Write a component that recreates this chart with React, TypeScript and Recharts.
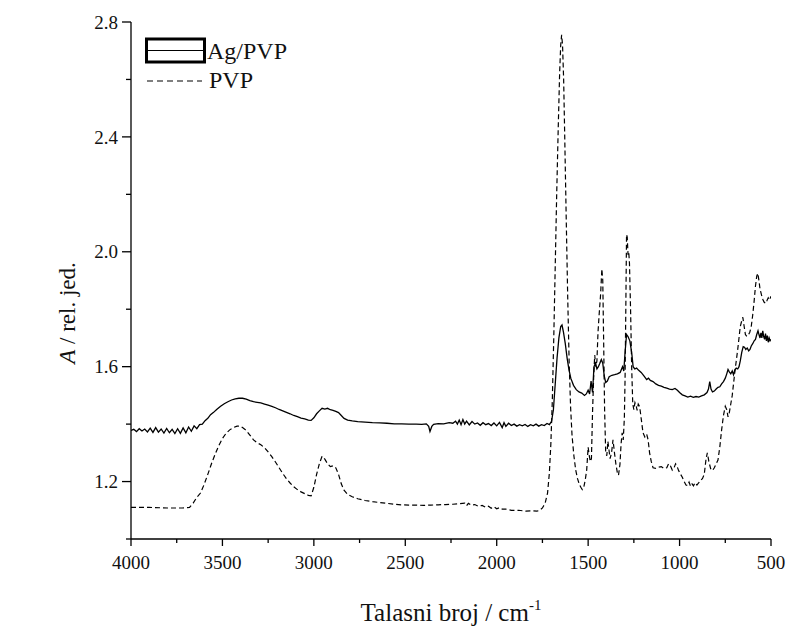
import { LineChart, Line, XAxis, YAxis, Legend } from 'recharts';

// Ag/PVP (puna linija)
const agWn = [
  4000, 3985, 3970, 3955, 3940, 3925, 3910, 3895, 3880, 3865, 3850, 3835, 3820, 3805, 3790, 3775, 3760, 3745, 3730, 3715,
  3700, 3685, 3670, 3655, 3640, 3625, 3610, 3595, 3580, 3565, 3550, 3530, 3510, 3490, 3470, 3450, 3430, 3410, 3390, 3370,
  3350, 3330, 3310, 3290, 3270, 3250, 3230, 3210, 3190, 3170, 3150, 3130, 3110, 3090, 3070, 3050, 3030, 3015, 3000, 2985,
  2970, 2955, 2940, 2925, 2910, 2895, 2880, 2865, 2850, 2835, 2815, 2790, 2760, 2720, 2680, 2640, 2600, 2560, 2520, 2480,
  2440, 2410, 2385, 2372, 2365, 2355, 2345, 2320, 2290, 2260, 2240, 2225, 2215, 2205, 2195, 2185, 2175, 2165, 2150, 2135,
  2120, 2105, 2090, 2075, 2060, 2045, 2030, 2015, 2000, 1985, 1970, 1960, 1950, 1935, 1920, 1905, 1890, 1875, 1860, 1845,
  1830, 1815, 1800, 1785, 1770, 1755, 1740, 1725, 1712, 1700, 1690, 1680, 1670, 1660, 1650, 1643, 1635, 1625, 1615, 1605,
  1595, 1580, 1565, 1550, 1535, 1520, 1510, 1500, 1492, 1484, 1476, 1468, 1460, 1452, 1444, 1436, 1428, 1420, 1412, 1404,
  1395, 1385, 1370, 1355, 1340, 1325, 1312, 1305, 1298, 1290, 1282, 1272, 1262, 1254, 1245, 1235, 1225, 1210, 1195, 1180,
  1170, 1160, 1145, 1130, 1115, 1100, 1085, 1070, 1055, 1040, 1025, 1012, 1000, 985, 970, 955, 940, 925, 910, 895,
  880, 865, 850, 842, 835, 828, 820, 810, 800, 790, 780, 770, 760, 750, 742, 735, 728, 720, 712, 705,
  698, 690, 682, 675, 668, 660, 652, 645, 638, 630, 622, 615, 608, 600, 592, 585, 578, 571, 565, 560,
  555, 550, 545, 540, 535, 530, 525, 520, 515, 510, 505, 500,
];
const agA = [
  1.378, 1.382, 1.374, 1.384, 1.376, 1.383, 1.373, 1.386, 1.371, 1.388, 1.372, 1.383, 1.369, 1.385, 1.37, 1.382, 1.367, 1.384, 1.368, 1.387,
  1.37, 1.39, 1.375, 1.394, 1.384, 1.398, 1.4, 1.412, 1.42, 1.433, 1.44, 1.452, 1.462, 1.471, 1.478, 1.484, 1.488, 1.49, 1.49, 1.487,
  1.482, 1.478, 1.476, 1.474, 1.47, 1.466, 1.462, 1.457, 1.451, 1.446, 1.441, 1.436, 1.43, 1.426, 1.421, 1.418, 1.414, 1.413, 1.422, 1.436,
  1.446, 1.455, 1.452, 1.455, 1.45, 1.448, 1.444, 1.44, 1.43, 1.42, 1.414, 1.411, 1.409, 1.407, 1.405, 1.404, 1.403, 1.401, 1.401, 1.4,
  1.4, 1.399, 1.401, 1.392, 1.374, 1.392, 1.399, 1.402, 1.401, 1.405, 1.403, 1.41, 1.4, 1.414, 1.398, 1.416, 1.4, 1.41, 1.397, 1.409,
  1.4, 1.404, 1.396, 1.405, 1.398, 1.402, 1.395, 1.404, 1.394, 1.406, 1.388, 1.405, 1.392, 1.403, 1.395, 1.4, 1.393, 1.398, 1.394, 1.399,
  1.392, 1.398, 1.394, 1.4, 1.393, 1.398, 1.395, 1.402, 1.398, 1.41, 1.45, 1.54, 1.63, 1.7, 1.74, 1.745, 1.72, 1.68, 1.63, 1.59,
  1.56, 1.535, 1.52, 1.512, 1.508, 1.5, 1.505, 1.518, 1.505, 1.55, 1.51, 1.6, 1.612, 1.592, 1.6, 1.612, 1.625, 1.612, 1.568, 1.545,
  1.55, 1.565, 1.57, 1.572, 1.575, 1.58, 1.6, 1.585, 1.65, 1.712, 1.705, 1.69, 1.65, 1.6, 1.592, 1.595, 1.588, 1.58, 1.568, 1.555,
  1.56, 1.552, 1.548, 1.54, 1.535, 1.532, 1.528, 1.525, 1.522, 1.52, 1.524, 1.518, 1.51, 1.502, 1.498, 1.494, 1.497, 1.493, 1.496, 1.494,
  1.498, 1.502, 1.51, 1.522, 1.548, 1.522, 1.512, 1.515, 1.522, 1.528, 1.53, 1.54, 1.548, 1.56, 1.575, 1.59, 1.582, 1.575, 1.585, 1.572,
  1.588, 1.595, 1.592, 1.6, 1.62, 1.65, 1.67, 1.668, 1.66, 1.665, 1.655, 1.66, 1.672, 1.68, 1.69, 1.695, 1.712, 1.725, 1.71, 1.7,
  1.718, 1.7, 1.725, 1.705, 1.695, 1.715, 1.69, 1.708, 1.685, 1.7, 1.69, 1.695,
];

// PVP (isprekidana linija)
const pvpWn = [
  4000, 3900, 3800, 3720, 3680, 3660, 3640, 3620, 3600, 3580, 3560, 3540, 3520, 3500, 3480, 3460, 3440, 3420, 3405, 3390,
  3370, 3350, 3330, 3310, 3290, 3270, 3250, 3230, 3210, 3190, 3170, 3150, 3130, 3110, 3090, 3070, 3050, 3030, 3015, 3000,
  2985, 2970, 2955, 2940, 2925, 2910, 2895, 2880, 2865, 2850, 2835, 2815, 2790, 2760, 2720, 2680, 2640, 2600, 2560, 2520,
  2480, 2440, 2400, 2360, 2320, 2280, 2240, 2200, 2175, 2165, 2155, 2140, 2120, 2100, 2080, 2060, 2045, 2030, 2015, 2000,
  1985, 1970, 1950, 1920, 1880, 1840, 1800, 1780, 1765, 1750, 1735, 1722, 1712, 1704, 1696, 1688, 1680, 1672, 1664, 1656,
  1650, 1645, 1640, 1634, 1628, 1620, 1612, 1604, 1596, 1588, 1578, 1568, 1558, 1548, 1540, 1532, 1524, 1516, 1508, 1500,
  1494, 1488, 1482, 1476, 1470, 1464, 1458, 1452, 1446, 1440, 1432, 1425, 1420, 1415, 1410, 1404, 1398, 1392, 1386, 1380,
  1372, 1364, 1356, 1348, 1340, 1334, 1326, 1320, 1314, 1308, 1302, 1298, 1294, 1290, 1286, 1282, 1278, 1274, 1268, 1262,
  1256, 1250, 1244, 1238, 1232, 1226, 1218, 1210, 1200, 1190, 1180, 1172, 1164, 1155, 1145, 1130, 1115, 1100, 1085, 1070,
  1060, 1050, 1040, 1030, 1022, 1015, 1005, 995, 985, 975, 965, 955, 948, 940, 932, 924, 915, 905, 895, 885,
  875, 865, 855, 848, 840, 830, 820, 810, 800, 790, 780, 770, 760, 750, 742, 735, 728, 720, 712, 705,
  698, 690, 682, 675, 668, 660, 654, 648, 640, 632, 624, 616, 608, 600, 592, 585, 578, 572, 566, 560,
  552, 545, 538, 530, 522, 515, 508, 500,
];
const pvpA = [
  1.11, 1.11, 1.108, 1.108, 1.11, 1.125, 1.145, 1.16, 1.19, 1.225, 1.262, 1.295, 1.325, 1.35, 1.368, 1.38, 1.388, 1.393, 1.393, 1.388,
  1.378, 1.362, 1.345, 1.335, 1.328, 1.318, 1.303, 1.287, 1.268, 1.248, 1.228, 1.21, 1.195, 1.182, 1.172, 1.164, 1.158, 1.152, 1.15, 1.18,
  1.225, 1.262, 1.288, 1.278, 1.262, 1.252, 1.255, 1.248, 1.225, 1.192, 1.17, 1.155, 1.147, 1.14, 1.134, 1.13, 1.127, 1.124, 1.121, 1.119,
  1.118, 1.118, 1.117, 1.118, 1.119, 1.12, 1.121, 1.123, 1.125, 1.116, 1.124, 1.118, 1.12, 1.114, 1.117, 1.11, 1.114, 1.107, 1.112, 1.105,
  1.109, 1.104, 1.104, 1.1, 1.1, 1.097, 1.098, 1.097, 1.1, 1.108, 1.125, 1.16, 1.23, 1.33, 1.48, 1.7, 1.95, 2.2, 2.42, 2.62,
  2.72, 2.755, 2.72, 2.6, 2.4, 2.12, 1.85, 1.62, 1.46, 1.36, 1.29, 1.24, 1.21, 1.19, 1.18, 1.172, 1.18, 1.205, 1.24, 1.32,
  1.29, 1.27, 1.28, 1.44, 1.56, 1.64, 1.6, 1.62, 1.72, 1.78, 1.85, 1.94, 1.9, 1.68, 1.45, 1.3, 1.29, 1.34, 1.31, 1.28,
  1.3, 1.345, 1.3, 1.26, 1.23, 1.222, 1.26, 1.33, 1.37, 1.345, 1.42, 1.56, 1.8, 2.06, 2.05, 1.99, 2.0, 1.96, 1.8, 1.6,
  1.47, 1.45, 1.475, 1.465, 1.448, 1.47, 1.46, 1.42, 1.37, 1.355, 1.365, 1.345, 1.3, 1.27, 1.248, 1.246, 1.25, 1.252, 1.245, 1.248,
  1.262, 1.255, 1.24, 1.248, 1.262, 1.255, 1.238, 1.226, 1.215, 1.2, 1.188, 1.186, 1.198, 1.184, 1.192, 1.185, 1.196, 1.188, 1.196, 1.205,
  1.21, 1.225, 1.28, 1.3, 1.27, 1.245, 1.238, 1.248, 1.262, 1.275, 1.32, 1.38, 1.43, 1.462, 1.45, 1.425, 1.44, 1.47, 1.5, 1.54,
  1.58, 1.62, 1.66, 1.7, 1.74, 1.76, 1.772, 1.745, 1.712, 1.705, 1.71, 1.72, 1.74, 1.78, 1.83, 1.88, 1.915, 1.925, 1.9, 1.87,
  1.85, 1.835, 1.825, 1.82, 1.83, 1.84, 1.832, 1.845,
];

const xTicks = [4000, 3750, 3500, 3250, 3000, 2750, 2500, 2250, 2000, 1750, 1500, 1250, 1000, 750, 500];
const yTicks = [1.0, 1.2, 1.4, 1.6, 1.8, 2.0, 2.2, 2.4, 2.6, 2.8];

const agData = agWn.map((wn, i) => ({ wn, a: agA[i] }));
const pvpData = pvpWn.map((wn, i) => ({ wn, a: pvpA[i] }));

const serif = { fontFamily: 'Liberation Serif' };

const XTick = ({ x, y, payload }: any) => {
  const major = payload.value % 500 === 0;
  return (
    <g>
      <line x1={x} x2={x} y1={y} y2={y + (major ? 7 : 4)} stroke="#000" strokeWidth={1.3} />
      {major && (
        <text x={x} y={y + 30} textAnchor="middle" style={serif} fontSize={19} fill="#111">
          {payload.value}
        </text>
      )}
    </g>
  );
};

const YTick = ({ x, y, payload }: any) => {
  const major = Math.round(payload.value * 10) % 4 === 0;
  return (
    <g>
      <line x1={x} x2={x - (major ? 9 : 5)} y1={y} y2={y} stroke="#000" strokeWidth={1.3} />
      {major && (
        <text x={x - 13} y={y} dy="0.35em" textAnchor="end" style={serif} fontSize={19} fill="#111">
          {payload.value.toFixed(1)}
        </text>
      )}
    </g>
  );
};

const XTitle = ({ viewBox }: any) => (
  <text x={viewBox.x + viewBox.width / 2} y={viewBox.y + 82} textAnchor="middle" style={serif} fontSize={25} fill="#111">
    Talasni broj / cm<tspan dy={-11} fontSize={15}>-1</tspan>
  </text>
);

const YTitle = ({ viewBox }: any) => {
  const cx = viewBox.x + 8;
  const cy = 313;
  return (
    <text x={cx} y={cy} transform={`rotate(-90, ${cx}, ${cy})`} textAnchor="middle" style={serif} fontSize={23} fill="#111">
      <tspan fontStyle="italic">A</tspan> / rel. jed.
    </text>
  );
};

const LegendBox = () => (
  <svg width={170} height={70} style={{ display: 'block' }}>
    <rect x={1.5} y={2} width={58} height={23} fill="none" stroke="#000" strokeWidth={3} />
    <line x1={1.5} x2={59.5} y1={13.5} y2={13.5} stroke="#000" strokeWidth={1.2} />
    <text x={62} y={22} style={serif} fontSize={24} fill="#111">Ag/PVP</text>
    <line x1={2} x2={57} y1={44} y2={44} stroke="#000" strokeWidth={1.2} strokeDasharray="6 4" />
    <text x={64} y={51} style={serif} fontSize={24} fill="#111">PVP</text>
  </svg>
);

export default function App() {
  return (
    <div style={{ position: 'absolute', left: 0, top: 0, width: 786, height: 631, overflow: 'hidden', background: '#fff' }}>
      <LineChart width={786} height={631} margin={{ top: 22, right: 15, left: 67, bottom: 0 }}>
        <XAxis
          type="number"
          dataKey="wn"
          domain={[500, 4000]}
          reversed
          ticks={xTicks}
          interval={0}
          tickSize={0}
          tickMargin={0}
          tickLine={false}
          tick={(p: any) => <XTick {...p} />}
          axisLine={{ stroke: '#000', strokeWidth: 1.3 }}
          height={92}
          allowDataOverflow
          label={{ content: (p: any) => <XTitle {...p} /> }}
        />
        <YAxis
          type="number"
          dataKey="a"
          domain={[1.0, 2.8]}
          ticks={yTicks}
          interval={0}
          tickSize={0}
          tickMargin={0}
          tickLine={false}
          tick={(p: any) => <YTick {...p} />}
          axisLine={{ stroke: '#000', strokeWidth: 1.3 }}
          width={64}
          allowDataOverflow
          label={{ content: (p: any) => <YTitle {...p} /> }}
        />
        <Legend
          layout="vertical"
          align="center"
          verticalAlign="middle"
          wrapperStyle={{ left: 145, top: 37, width: 170 }}
          content={() => <LegendBox />}
        />
        <Line
          data={agData}
          dataKey="a"
          name="Ag/PVP"
          type="linear"
          stroke="#000"
          strokeWidth={1.3}
          dot={false}
          isAnimationActive={false}
        />
        <Line
          data={pvpData}
          dataKey="a"
          name="PVP"
          type="linear"
          stroke="#000"
          strokeWidth={1.2}
          strokeDasharray="5 3"
          dot={false}
          isAnimationActive={false}
        />
      </LineChart>
    </div>
  );
}
